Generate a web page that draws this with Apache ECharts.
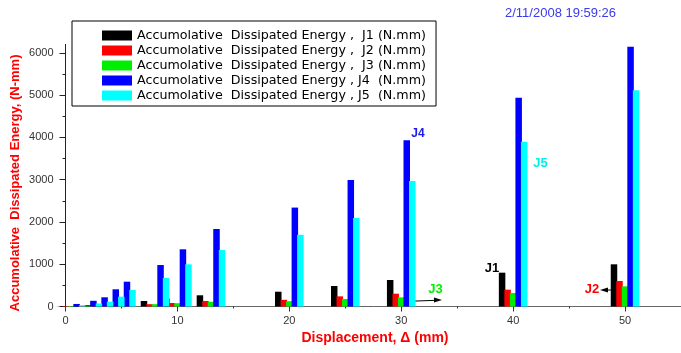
<!DOCTYPE html>
<html><head><meta charset="utf-8">
<script src="https://cdn.jsdelivr.net/npm/echarts@6/dist/echarts.min.js"></script>
<style>html,body{margin:0;padding:0;background:#fff}#c{width:681px;height:353px}</style>
</head><body><div id="c"></div>
<script>
// Displacement (mm) of each bar group
const displacement = [0.5, 2, 3, 4, 5, 8, 10, 13, 20, 25, 30, 40, 50];
// Accumulative dissipated energy (N.mm)
const j1 = [5, 20, 30, 40, 60, 130, 190, 265, 350, 485, 627, 800, 998];
const j2 = [10, 15, 20, 30, 40, 55, 83, 130, 158, 240, 303, 398, 603];
const j3 = [10, 15, 20, 30, 40, 55, 78, 112, 125, 177, 217, 320, 477];
const j4 = [60, 135, 218, 407, 587, 981, 1353, 1833, 2340, 2992, 3935, 4939, 6145];
const j5 = [30, 70, 114, 232, 390, 678, 998, 1336, 1696, 2093, 2968, 3898, 5113];
const seriesNames = [
  'Accumolative  Dissipated Energy ,  J1 (N.mm)',
  'Accumolative  Dissipated Energy ,  J2 (N.mm)',
  'Accumolative  Dissipated Energy ,  J3 (N.mm)',
  'Accumolative  Dissipated Energy , J4  (N.mm)',
  'Accumolative  Dissipated Energy , J5  (N.mm)'
];
const xMajorTicks = [0, 10, 20, 30, 40, 50];
const xMinorTicks = [5, 15, 25, 35, 45];
const yMajorTicks = [0, 1000, 2000, 3000, 4000, 5000, 6000];
const yMinorTicks = [500, 1500, 2500, 3500, 4500, 5500];

const colors = ['#000000', '#ff0000', '#00ee00', '#0000ff', '#00ffff'];
const allValues = [j1, j2, j3, j4, j5];

const chart = echarts.init(document.getElementById('c'), null, {renderer: 'canvas'});
const tickFont = {fontFamily: '"Liberation Sans", Arial', fontSize: 11, color: '#333'};

const series = allValues.map((vals, i) => ({
  type: 'bar',
  name: seriesNames[i],
  xAxisIndex: 0, yAxisIndex: 0,
  data: displacement.map((d, k) => [d, vals[k]]),
  barWidth: 6.5,
  barGap: '-15%',
  itemStyle: {color: colors[i]},
  emphasis: {disabled: true},
  animation: false
}));

chart.setOption({
  animation: false,
  color: colors,
  grid: {left: 65.5, right: -7, top: 44.4, bottom: 46.5, containLabel: false},
  legend: {
    data: seriesNames,
    orient: 'vertical',
    left: 72, top: 21,
    padding: [8, 10, 4, 30],
    itemWidth: 30, itemHeight: 10, itemGap: 2,
    icon: 'rect',
    borderColor: '#000', borderWidth: 1,
    selectedMode: false,
    textStyle: {fontFamily: '"DejaVu Sans"', fontSize: 12.7, lineHeight: 12.2, color: '#000'}
  },
  xAxis: [{
    type: 'value', min: 0, max: 55, position: 'bottom',
    splitLine: {show: false},
    axisLine: {show: true, onZero: false, lineStyle: {color: '#666', width: 1}},
    axisTick: {show: true, length: 5, customValues: xMajorTicks, lineStyle: {color: '#333'}},
    axisLabel: {customValues: xMajorTicks, margin: 9, formatter: v => String(v), ...tickFont}
  }, {
    type: 'value', min: 0, max: 55, position: 'bottom',
    splitLine: {show: false},
    axisLine: {show: false},
    axisTick: {show: true, length: 2, customValues: xMinorTicks, lineStyle: {color: '#333'}},
    axisLabel: {show: false}
  }],
  yAxis: [{
    type: 'value', min: 0, max: 6200, position: 'left',
    splitLine: {show: false},
    axisLine: {show: true, onZero: false, lineStyle: {color: '#222', width: 1}},
    axisTick: {show: true, length: 6, customValues: yMajorTicks, lineStyle: {color: '#222'}},
    axisLabel: {customValues: yMajorTicks, margin: 12, formatter: v => String(v), ...tickFont}
  }, {
    type: 'value', min: 0, max: 6200, position: 'left',
    splitLine: {show: false},
    axisLine: {show: false},
    axisTick: {show: true, length: 3, customValues: yMinorTicks, lineStyle: {color: '#222'}},
    axisLabel: {show: false}
  }],
  series: series,
  graphic: [
    {type: 'text', left: 505, top: 7, style: {text: '2/11/2008 19:59:26', fill: '#3a3aee', font: '13px "Liberation Sans", Arial'}},
    {type: 'text', x: 15, y: 183, rotation: Math.PI / 2, style: {text: 'Accumolative  Dissipated Energy, (N-mm)', fill: '#ff0000', font: 'bold 13px "Liberation Sans", Arial', align: 'center', verticalAlign: 'middle'}},
    {type: 'text', x: 375, y: 338, style: {text: 'Displacement, \u0394 (mm)', fill: '#ff0000', font: 'bold 14px "Liberation Sans", Arial', align: 'center', verticalAlign: 'middle'}},
    {type: 'text', x: 418, y: 134, style: {text: 'J4', fill: '#1a1aee', font: 'bold 12px "Liberation Sans", Arial', align: 'center', verticalAlign: 'middle'}},
    {type: 'text', x: 540.5, y: 163.5, style: {text: 'J5', fill: '#00f0f0', font: 'bold 13px "Liberation Sans", Arial', align: 'center', verticalAlign: 'middle'}},
    {type: 'text', x: 492, y: 268, style: {text: 'J1', fill: '#000', font: 'bold 13px "Liberation Sans", Arial', align: 'center', verticalAlign: 'middle'}},
    {type: 'text', x: 592, y: 289, style: {text: 'J2', fill: '#ff0000', font: 'bold 13px "Liberation Sans", Arial', align: 'center', verticalAlign: 'middle'}},
    {type: 'text', x: 435.5, y: 289.5, style: {text: 'J3', fill: '#00ee00', font: 'bold 13px "Liberation Sans", Arial', align: 'center', verticalAlign: 'middle'}},
    {type: 'line', shape: {x1: 403, y1: 301.5, x2: 436, y2: 300.3}, style: {stroke: '#000', lineWidth: 1}},
    {type: 'polygon', shape: {points: [[442, 300], [434, 297.6], [434, 302.6]]}, style: {fill: '#000'}},
    {type: 'line', shape: {x1: 624, y1: 290, x2: 606, y2: 290}, style: {stroke: '#000', lineWidth: 1}},
    {type: 'polygon', shape: {points: [[600, 290], [608, 287.5], [608, 292.5]]}, style: {fill: '#000'}}
  ]
});
</script>
</body></html>
